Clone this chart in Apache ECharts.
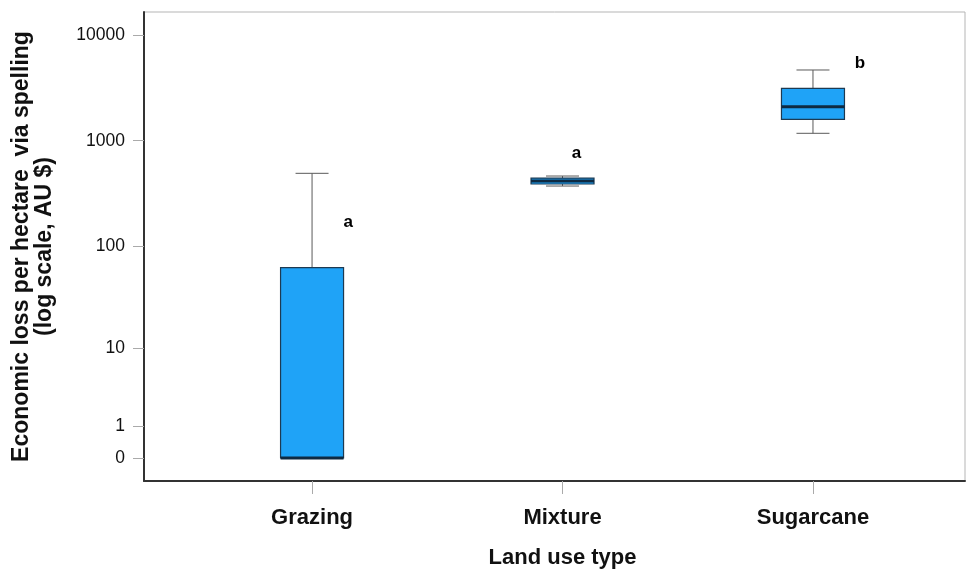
<!DOCTYPE html>
<html>
<head>
<meta charset="utf-8">
<script src="https://cdn.jsdelivr.net/npm/echarts@6/dist/echarts.min.js"></script>
<style>
html,body{margin:0;padding:0;background:#fff;}
#chart{width:971px;height:573px;}
</style>
</head>
<body>
<div id="chart"></div>
<script>
// ---- Data (AU $ per hectare) ----
var categories = ['Grazing', 'Mixture', 'Sugarcane'];
var whiskerLow  = [0,   372, 1175];
var q1          = [0,   389, 1595];
var median      = [0,   415, 2099];
var q3          = [62,  443, 3133];
var whiskerHigh = [491, 463, 4667];

// significance letters and where they sit (x in category units, y in AU $)
var letters = ['a', 'a', 'b'];
var letterX = [1.144, 2.056, 3.188];
var letterY = [170, 765, 5435];

// y tick labels (AU $)
var yTicks = [0, 1, 10, 100, 1000, 10000];

// ---- log(x+1) transform ----
function t(v) { return Math.log10(v + 1); }
function inv(v) { return Math.round(Math.pow(10, v) - 1); }

var boxData = categories.map(function (c, i) {
  return [i + 1, t(whiskerLow[i]), t(q1[i]), t(median[i]), t(q3[i]), t(whiskerHigh[i])];
});
var letterData = letters.map(function (l, i) {
  return [letterX[i], t(letterY[i]), i];
});

var FONT = 'Liberation Sans, Arial, sans-serif';
var chart = echarts.init(document.getElementById('chart'), null, { renderer: 'canvas' });

chart.setOption({
  animation: false,
  backgroundColor: '#ffffff',
  grid: {
    left: 144, right: 6, top: 12, bottom: 92,
    outerBoundsMode: 'none',
    containLabel: false,
    show: true, borderColor: '#b5b5b5', borderWidth: 1, backgroundColor: '#ffffff'
  },
  xAxis: {
    type: 'value',
    min: 0.329, max: 3.607,
    name: 'Land use type',
    nameLocation: 'middle',
    nameGap: 66,
    nameTextStyle: { fontFamily: FONT, fontSize: 22, fontWeight: 'bold', color: '#111', padding: [0, 0, 0, 16] },
    splitLine: { show: false },
    axisLine: { show: true, onZero: false, lineStyle: { color: '#333', width: 2 } },
    axisTick: { show: true, length: 13, customValues: [1, 2, 3], lineStyle: { color: '#aaaaaa', width: 1 } },
    axisLabel: {
      customValues: [1, 2, 3],
      margin: 26,
      fontFamily: FONT, fontSize: 22, fontWeight: 'bold', color: '#111',
      formatter: function (v) { return categories[Math.round(v) - 1] || ''; }
    }
  },
  yAxis: {
    type: 'value',
    min: -0.2175, max: 4.2175,
    name: 'Economic loss per hectare  via spelling\n(log scale, AU $)',
    nameLocation: 'middle',
    nameGap: 88,
    nameTextStyle: { fontFamily: FONT, fontSize: 23, fontWeight: 'bold', color: '#111', lineHeight: 23, align: 'center' },
    splitLine: { show: false },
    axisLine: { show: true, onZero: false, lineStyle: { color: '#333', width: 2 } },
    axisTick: { show: true, length: 11, customValues: yTicks.map(t), lineStyle: { color: '#aaaaaa', width: 1 } },
    axisLabel: {
      customValues: yTicks.map(t),
      margin: 19,
      fontFamily: FONT, fontSize: 17.5, color: '#111',
      formatter: function (v) { return String(inv(v)); }
    }
  },
  series: [
    {
      type: 'custom',
      data: boxData,
      encode: { x: 0, y: [1, 2, 3, 4, 5] },
      renderItem: function (params, api) {
        var x = api.value(0);
        var pLo = api.coord([x, api.value(1)]);
        var pQ1 = api.coord([x, api.value(2)]);
        var pMed = api.coord([x, api.value(3)]);
        var pQ3 = api.coord([x, api.value(4)]);
        var pHi = api.coord([x, api.value(5)]);
        var hw = 31.5, cw = 16.5;
        var cx = pMed[0];
        var whisk = { stroke: '#5a5a5a', lineWidth: 1 };
        return {
          type: 'group',
          children: [
            { type: 'line', shape: { x1: cx, y1: pQ3[1], x2: cx, y2: pHi[1] }, style: whisk },
            { type: 'line', shape: { x1: cx, y1: pQ1[1], x2: cx, y2: pLo[1] }, style: whisk },
            { type: 'line', shape: { x1: cx - cw, y1: pHi[1], x2: cx + cw, y2: pHi[1] }, style: whisk },
            { type: 'line', shape: { x1: cx - cw, y1: pLo[1], x2: cx + cw, y2: pLo[1] }, style: whisk },
            { type: 'rect', shape: { x: cx - hw, y: pQ3[1], width: 2 * hw, height: pQ1[1] - pQ3[1] },
              style: { fill: '#1fa3f7', stroke: '#1d3a52', lineWidth: 1.2 } },
            { type: 'line', shape: { x1: cx - hw, y1: pMed[1], x2: cx + hw, y2: pMed[1] },
              style: { stroke: '#0e2a42', lineWidth: 3 } }
          ]
        };
      },
      z: 3
    },
    {
      type: 'custom',
      data: letterData,
      encode: { x: 0, y: 1 },
      renderItem: function (params, api) {
        var p = api.coord([api.value(0), api.value(1)]);
        return {
          type: 'text',
          x: p[0], y: p[1],
          style: {
            text: letters[api.value(2)],
            fontFamily: FONT, fontSize: 17, fontWeight: 'bold', fill: '#000',
            align: 'center', verticalAlign: 'middle'
          }
        };
      },
      z: 4
    }
  ]
});
</script>
</body>
</html>
